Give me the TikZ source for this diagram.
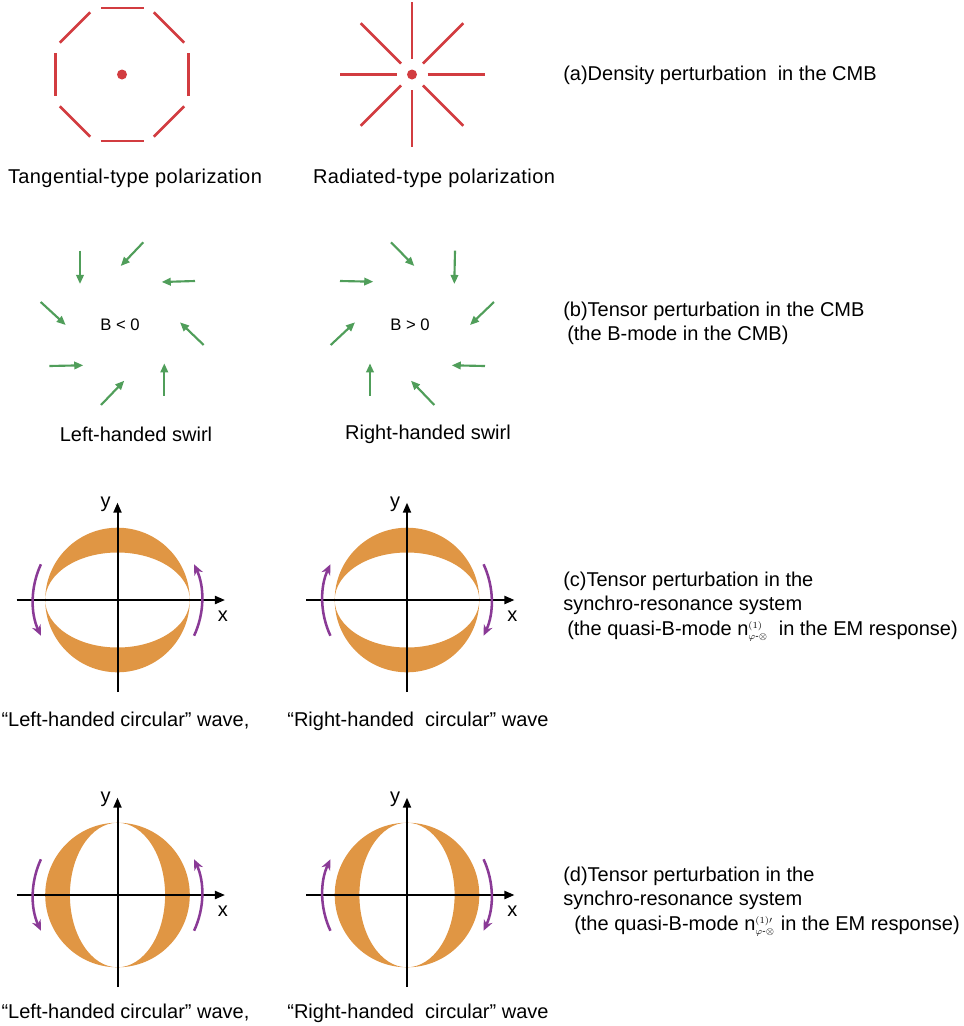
\documentclass[tikz,border=0pt]{standalone}
\usepackage{amsmath}
\usepackage{fontspec}
\setmainfont{Liberation Sans}
\usetikzlibrary{arrows.meta}
\definecolor{cred}{RGB}{210,60,64}
\definecolor{cgreen}{RGB}{80,158,90}
\definecolor{corange}{RGB}{224,150,68}
\definecolor{cpurple}{RGB}{138,58,150}
\tikzset{
  redline/.style={cred, line width=2pt},
  greenarrow/.style={cgreen, line width=1.6pt, -{Triangle[length=6.8pt,width=5.6pt]}},
  axisline/.style={black, line width=1.5pt, -{Triangle[length=7.5pt,width=6pt]}},
  purplearc/.style={cpurple, line width=1.9pt, -{Stealth[length=8pt,width=7pt,inset=2.5pt]}},
  lbl/.style={font=\fontsize{15}{18}\selectfont, inner sep=0pt},
  widelbl/.style={font=\fontsize{15}{18}\selectfont\addfontfeatures{LetterSpace=2}, inner sep=0pt},
  small/.style={font=\fontsize{12.5}{14}\selectfont, inner sep=0pt},
}
\newcommand{\quasiB}[1]{n$^{\scriptscriptstyle(1)#1}_{\scriptscriptstyle\varphi\text{-}\otimes}$}
\begin{document}
\begin{tikzpicture}[x=0.75pt,y=-0.75pt]
\useasboundingbox (0,0) rectangle (964,1026);

% ---------- (a) ----------
\coordinate (oct) at (122,74.5);
\foreach \a in {0,45,...,315}
  \draw[redline] (oct) ++(\a:66.5) ++(\a+90:21.5) -- ++(\a-90:43);
\fill[cred] (oct) circle[radius=5];

\coordinate (star) at (412,74.5);
\foreach \a in {0,45,...,315}
  \draw[redline] (star) ++(\a:15.5) -- ++(\a:57);
\fill[cred] (star) circle[radius=5];

\node[widelbl, anchor=base] (tang) at (135,183) {Tangential-type polarization};
\node[widelbl, anchor=base] (rad) at (434,183) {Radiated-type polarization};
\node[lbl, anchor=base west] (ta) at (563,80.5) {(a)Density perturbation~ in the CMB};

% ---------- (b) ----------
\foreach \sx/\sy/\ex/\ey in {80/250.7/80/284, 143.3/242.3/120.7/266, 195/281/161.7/282,
  40.7/302/65.7/325, 203.7/345/180/322.3, 49.3/366/83.3/365.3, 164.3/395.7/164.3/363.3,
  101/405/124.3/380.7}
  \draw[greenarrow] (\sx,\sy) -- (\ex,\ey);
\foreach \sx/\sy/\ex/\ey in {391/242.3/414.3/266, 455/250.7/454.3/284, 340/281/373.3/281.7,
  494/302/470/325, 330.7/345/355/322.3, 485/366/451.7/365.3, 370/395.7/370/363.3,
  434.3/405/411/380.7}
  \draw[greenarrow] (\sx,\sy) -- (\ex,\ey);
\node[small] (bl) at (120,324.3) {B < 0};
\node[small] (bg) at (410,324.3) {B > 0};
\node[lbl, anchor=base] (lsw) at (136,441) {Left-handed swirl};
\node[lbl, anchor=base] (rsw) at (428,439) {Right-handed swirl};
\node[lbl, anchor=base west] (tb1) at (563,316) {(b)Tensor perturbation in the CMB};
\node[lbl, anchor=base west] (tb2) at (567,340.5) {(the B-mode in the CMB)};

% ---------- (c) and (d) ----------
\foreach \cx/\cy/\vert/\lh in {117.5/600/0/1, 407/600/0/0, 117.5/895/1/1, 407/895/1/0}{
  \coordinate (c) at (\cx,\cy);
  \ifnum\vert=0
    \fill[corange, even odd rule] (c) circle[radius=72.3] (c) ellipse[x radius=72.3, y radius=47.5];
  \else
    \fill[corange, even odd rule] (c) circle[radius=72.3] (c) ellipse[x radius=47.6, y radius=72.3];
  \fi
  \coordinate (xa) at ([xshift=-75.6pt]c);
  \coordinate (xb) at ([xshift=80.6pt]c);
  \coordinate (ya) at ([yshift=-69pt]c);
  \coordinate (yb) at ([yshift=73pt]c);
  \draw[axisline] (xa) -- (xb);
  \draw[axisline] (ya) -- (yb);
  \node[lbl] at ([xshift=79pt,yshift=-12pt]c) {x};
  \node[lbl] at ([xshift=-9pt,yshift=71.5pt]c) {y};
  \ifnum\lh=1
    \draw[purplearc] (c) ++(205:84.5) arc[start angle=205, end angle=155, radius=84.5];
    \draw[purplearc] (c) ++(25:84.5) arc[start angle=25, end angle=-25, radius=84.5];
  \else
    \draw[purplearc] (c) ++(155:84.5) arc[start angle=155, end angle=205, radius=84.5];
    \draw[purplearc] (c) ++(-25:84.5) arc[start angle=-25, end angle=25, radius=84.5];
  \fi
}

\node[lbl, anchor=base] (lc) at (125.5,726) {“Left-handed circular” wave,};
\node[lbl, anchor=base] (rc) at (418,726) {“Right-handed~ circular” wave};
\node[lbl, anchor=base west] (tc1) at (563,586) {(c)Tensor perturbation in the};
\node[lbl, anchor=base west] (tc2) at (563,610.5) {synchro-resonance system};
\node[lbl, anchor=base west] (tc3) at (567,635) {(the quasi-B-mode \quasiB{}\hspace{0.55em}in the EM response)};

\node[lbl, anchor=base] (ld) at (125.5,1018) {“Left-handed circular” wave,};
\node[lbl, anchor=base] (rd) at (418,1018) {“Right-handed~ circular” wave};
\node[lbl, anchor=base west] (td1) at (563,881) {(d)Tensor perturbation in the};
\node[lbl, anchor=base west] (td2) at (563,905.5) {synchro-resonance system};
\node[lbl, anchor=base west] (td3) at (574,930) {(the quasi-B-mode \quasiB{\prime}\hspace{0.3em}in the EM response)};
\end{tikzpicture}
\end{document}
